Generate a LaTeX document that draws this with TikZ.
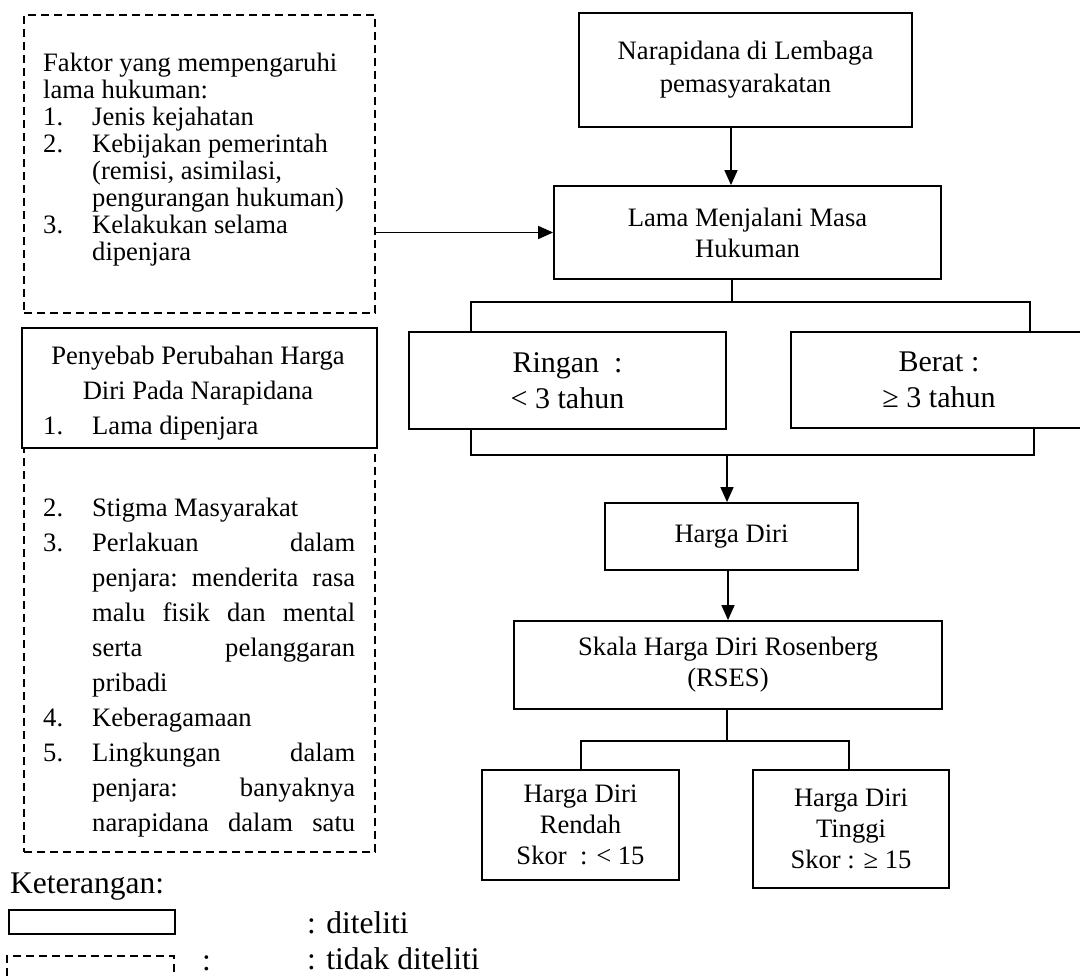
\documentclass[tikz,border=0pt]{standalone}
\usepackage{fontspec}
\setmainfont{Liberation Serif}
\usetikzlibrary{arrows.meta}
\newcommand\fsA{\fontsize{26.6}{31}\selectfont}
\newcommand\fsN{\fontsize{26.6}{33}\selectfont}
\newcommand\fsB{\fontsize{30}{36}\selectfont}
\newcommand\fsC{\fontsize{31.5}{36}\selectfont}
\newcommand\jline[1]{\makebox[263pt][s]{#1}}
\begin{document}
\begin{tikzpicture}[x=1pt,y=-1pt,
  box/.style={draw, line width=1.8pt, align=center, inner sep=0pt, font=\fsA},
  dbox/.style={draw, line width=1.4pt, dash pattern=on 8pt off 5pt},
  txt/.style={anchor=base west, inner sep=0pt, font=\fsA},
  ctxt/.style={anchor=base, inner sep=0pt, font=\fsA},
  ltxt/.style={anchor=base west, inner sep=0pt, font=\fsC},
  conn/.style={line width=1.6pt},
  arr/.style={conn, -{Triangle[length=15pt,width=13pt]}},
]
\useasboundingbox (0,0) rectangle (1080,977);
\clip (0,0) rectangle (1080,977);

% ---------- left column ----------
\node[dbox, minimum width=351pt, minimum height=298pt] (fak) at (199.5,164) {};
\node[txt] (f1) at (43,71) {Faktor yang mempengaruhi};
\node[txt] (f2) at (43,98) {lama hukuman:};
\node[txt] (f3n) at (43,125) {1.};
\node[txt] (f3) at (92,125) {Jenis kejahatan};
\node[txt] (f4n) at (43,152) {2.};
\node[txt] (f4) at (92,152) {Kebijakan pemerintah};
\node[txt] (f5) at (92,179) {(remisi, asimilasi,};
\node[txt] (f6) at (92,206) {pengurangan hukuman)};
\node[txt] (f7n) at (43,233) {3.};
\node[txt] (f7) at (92,233) {Kelakukan selama};
\node[txt] (f8) at (92,260) {dipenjara};

\node[dbox, minimum width=351pt, minimum height=522pt] (pen) at (199.5,591) {};
\node[draw, line width=2.5pt, fill=white, minimum width=355pt, minimum height=120pt, inner sep=0pt] (peny) at (199.5,388) {};
\node[ctxt] (p1) at (198,364) {Penyebab Perubahan Harga};
\node[ctxt] (p2) at (198,399) {Diri Pada Narapidana};
\node[txt] (p3n) at (43,434) {1.};
\node[txt] (p3) at (92,434) {Lama dipenjara};
\node[txt] (p4n) at (43,516) {2.};
\node[txt] (p4) at (92,516) {Stigma Masyarakat};
\node[txt] (p5n) at (43,551) {3.};
\node[txt] (p5) at (92,551) {\jline{Perlakuan\hfill dalam}};
\node[txt] (p6) at (92,586) {\jline{penjara:\hfill menderita\hfill rasa}};
\node[txt] (p7) at (92,621) {\jline{malu\hfill fisik\hfill dan\hfill mental}};
\node[txt] (p8) at (92,656) {\jline{serta\hfill pelanggaran}};
\node[txt] (p9) at (92,691) {pribadi};
\node[txt] (p10n) at (43,726) {4.};
\node[txt] (p10) at (92,726) {Keberagamaan};
\node[txt] (p11n) at (43,761) {5.};
\node[txt] (p11) at (92,761) {\jline{Lingkungan\hfill dalam}};
\node[txt] (p12) at (92,796) {\jline{penjara:\hfill banyaknya}};
\node[txt] (p13) at (92,831) {\jline{narapidana\hfill dalam\hfill satu}};

% ---------- legend ----------
\node[ltxt] (ket) at (10,893) {Keterangan:};
\node[draw, line width=1.5pt, minimum width=166pt, minimum height=24pt, inner sep=0pt] (lg1) at (92,922) {};
\node[ltxt] (lt1) at (307,933) {: diteliti};
\node[dbox, minimum width=167pt, minimum height=44pt, inner sep=0pt] (lg2) at (90.5,978) {};
\node[ltxt] (lc2) at (202,970) {:};
\node[ltxt] (lt2) at (307,969) {: tidak diteliti};

% ---------- right column ----------
\node[box, font=\fsN, minimum width=333pt, minimum height=114pt] (nara) at (745.5,70)
  {Narapidana di Lembaga\\pemasyarakatan};
\node[box, minimum width=387pt, minimum height=93pt] (lama) at (747.5,232.5)
  {Lama Menjalani Masa\\Hukuman};
\node[box, font=\fsB, minimum width=317pt, minimum height=97pt] (ring) at (567.5,380.5)
  {Ringan\ \ :\\< 3 tahun};
\node[box, font=\fsB, minimum width=296pt, minimum height=96pt] (berat) at (939,380)
  {Berat :\\≥ 3 tahun};
\node[box, minimum width=253pt, minimum height=67pt] (harga) at (731.5,536.5) {Harga Diri};
\node[box, minimum width=428pt, minimum height=88pt] (skala) at (728,665)
  {Skala Harga Diri Rosenberg\\(RSES)};
\node[box, minimum width=197pt, minimum height=110pt] (rend) at (580.5,825)
  {Harga Diri\\Rendah\\Skor\ \ : < 15};
\node[box, minimum width=196pt, minimum height=118pt] (ting) at (851,829)
  {Harga Diri\\Tinggi\\Skor : ≥ 15};

% ---------- connectors ----------
\draw[arr] (fak.east |- lama.west) -- (lama.west);
\coordinate (ax) at (731,0);
\draw[arr] (nara.south -| ax) -- (lama.north -| ax);
\coordinate (b1) at (732,302);
\coordinate (bl) at (471,302);
\coordinate (br) at (1030,302);
\draw[conn] (lama.south -| b1) -- (b1);
\draw[conn] (ring.north -| bl) -- (bl) -- (br) -- (berat.north -| br);
\coordinate (ql) at (471,455);
\coordinate (qr) at (1034,455);
\coordinate (q1) at (727,455);
\draw[conn] (ring.south -| ql) -- (ql) -- (qr) -- (berat.south -| qr);
\draw[arr] (q1) -- (harga.north -| q1);
\coordinate (sx) at (728,0);
\draw[arr] (harga.south -| sx) -- (skala.north -| sx);
\coordinate (s1) at (727,741);
\coordinate (sl) at (581,741);
\coordinate (sr) at (849,741);
\draw[conn] (skala.south -| s1) -- (s1);
\draw[conn] (rend.north -| sl) -- (sl) -- (sr) -- (ting.north -| sr);
\end{tikzpicture}
\end{document}
